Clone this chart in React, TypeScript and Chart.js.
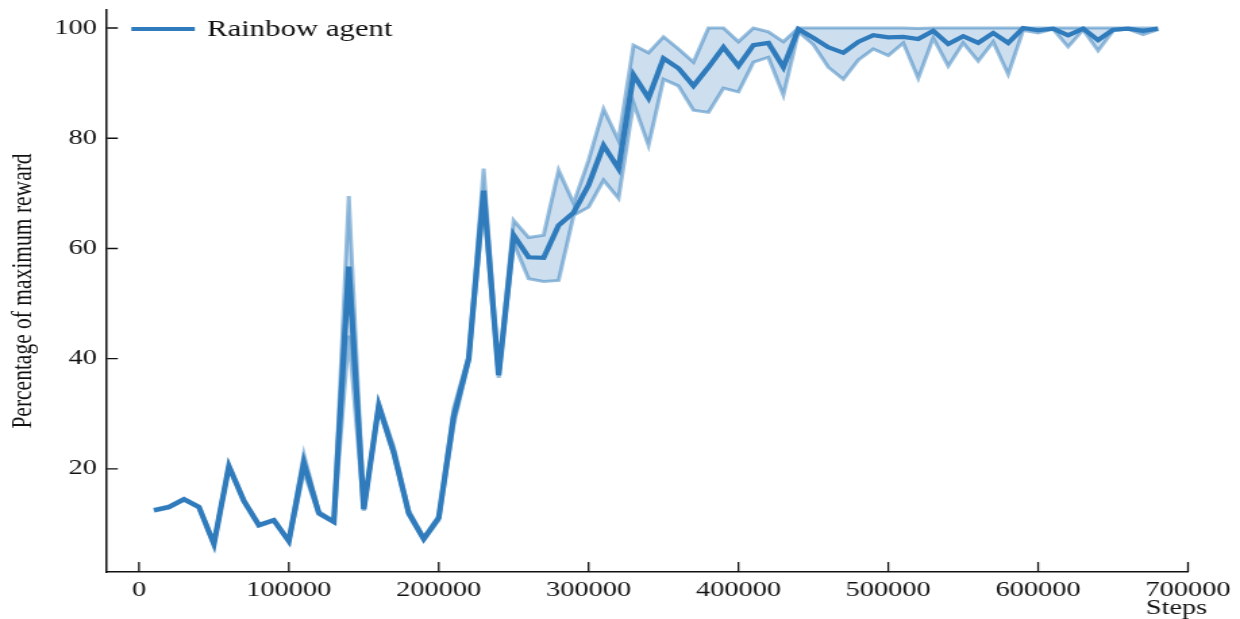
import React, { useEffect, useRef } from "react";
import Chart from "chart.js/auto";

const steps = [
  10000, 20000, 30000, 40000, 50000, 60000, 70000, 80000, 90000, 100000,
  110000, 120000, 130000, 140000, 150000, 160000, 170000, 180000, 190000, 200000,
  210000, 220000, 230000, 240000, 250000, 260000, 270000, 280000, 290000, 300000,
  310000, 320000, 330000, 340000, 350000, 360000, 370000, 380000, 390000, 400000,
  410000, 420000, 430000, 440000, 450000, 460000, 470000, 480000, 490000, 500000,
  510000, 520000, 530000, 540000, 550000, 560000, 570000, 580000, 590000, 600000,
  610000, 620000, 630000, 640000, 650000, 660000, 670000, 680000,
];

const meanReward = [
  12.5, 13.1, 14.5, 13.1, 6.4, 20.5, 14.2, 9.8, 10.7, 6.9,
  21.1, 12.0, 10.4, 56.7, 12.7, 31.5, 23.0, 12.0, 7.3, 11.1,
  29.5, 40.0, 70.5, 37.0, 62.4, 58.4, 58.3, 64.2, 66.5, 71.5,
  78.7, 74.5, 91.5, 87.3, 94.5, 92.7, 89.5, 92.9, 96.5, 93.1,
  96.9, 97.3, 92.9, 99.8, 98.2, 96.5, 95.5, 97.5, 98.7, 98.3,
  98.4, 98.0, 99.5, 97.1, 98.5, 97.3, 99.1, 97.3, 100.0, 99.6,
  99.9, 98.7, 99.9, 97.8, 99.7, 99.9, 99.5, 99.9,
];

const upperReward = [
  12.7, 13.3, 14.7, 13.3, 6.6, 20.7, 14.4, 10.0, 10.9, 7.1,
  22.7, 12.3, 10.6, 69.5, 13.0, 32.0, 24.0, 12.5, 7.6, 11.5,
  31.0, 40.5, 74.5, 37.5, 65.1, 62.0, 62.4, 74.2, 68.2, 76.0,
  85.3, 79.6, 96.9, 95.5, 98.4, 96.2, 93.8, 100.0, 100.0, 97.5,
  100.0, 99.3, 97.5, 100.0, 100.0, 100.0, 100.0, 100.0, 100.0, 100.0,
  100.0, 99.9, 100.0, 100.0, 100.0, 100.0, 100.0, 100.0, 100.0, 100.0,
  100.0, 100.0, 100.0, 100.0, 100.0, 100.0, 100.0, 100.0,
];

const lowerReward = [
  12.3, 12.9, 14.3, 12.9, 6.2, 20.3, 14.0, 9.6, 10.5, 6.7,
  19.5, 11.7, 10.2, 44.2, 12.4, 31.0, 22.5, 11.6, 7.0, 10.7,
  28.0, 39.5, 68.0, 36.5, 61.0, 54.5, 54.0, 54.2, 66.0, 67.5,
  72.4, 69.1, 86.4, 78.7, 90.7, 89.5, 85.1, 84.7, 89.1, 88.4,
  93.8, 94.7, 87.8, 99.3, 97.0, 92.9, 90.7, 94.2, 96.2, 95.0,
  97.3, 90.9, 98.2, 93.1, 97.3, 94.0, 97.5, 91.6, 99.6, 99.1,
  99.8, 96.6, 99.7, 95.9, 99.5, 99.8, 98.8, 99.7,
];

const xTickValues = [0, 100000, 200000, 300000, 400000, 500000, 600000, 700000];
const yTickValues = [20, 40, 60, 80, 100];

const seriesLabel = "Rainbow agent";
const xAxisLabel = "Steps";
const yAxisLabel = "Percentage of maximum reward";

const PAGE_W = 1240;
const PAGE_H = 619;
const W = 918;
const K = PAGE_W / W;
const FONT = "'Liberation Serif', 'Times New Roman', serif";
const TEXT = "#111111";
const MAIN = "#2f7bbb";
const EDGE = "rgba(47,123,187,0.5)";
const FILL = "rgba(47,123,187,0.24)";

const decorPlugin = {
  id: "decor",
  afterDraw(chart: any) {
    const { ctx, chartArea, scales } = chart;
    const x = scales.x;
    const y = scales.y;
    ctx.save();
    ctx.strokeStyle = TEXT;
    ctx.lineWidth = 1.3;
    ctx.beginPath();
    xTickValues.forEach((v) => {
      const px = x.getPixelForValue(v);
      ctx.moveTo(px, chartArea.bottom);
      ctx.lineTo(px, chartArea.bottom - 10);
    });
    yTickValues.forEach((v) => {
      const py = y.getPixelForValue(v);
      ctx.moveTo(chartArea.left, py);
      ctx.lineTo(chartArea.left + 8, py);
    });
    ctx.stroke();

    ctx.fillStyle = TEXT;
    ctx.font = `21px ${FONT}`;
    ctx.textAlign = "center";
    ctx.textBaseline = "alphabetic";
    ctx.fillText(xAxisLabel, x.getPixelForValue(700000) - 8.5, chartArea.bottom + 42);

    const ly = y.getPixelForValue(100) + 1;
    ctx.strokeStyle = MAIN;
    ctx.lineWidth = 4;
    ctx.beginPath();
    ctx.moveTo(chartArea.left + 18, ly);
    ctx.lineTo(chartArea.left + 65, ly);
    ctx.stroke();
    ctx.font = `22.8px ${FONT}`;
    ctx.textAlign = "left";
    ctx.textBaseline = "middle";
    ctx.fillText(seriesLabel, chartArea.left + 74, ly + 1);
    ctx.restore();
  },
};

export default function App() {
  const ref = useRef<HTMLCanvasElement>(null);

  useEffect(() => {
    if (!ref.current) return;
    const pts = (arr: number[]) => steps.map((s, i) => ({ x: s, y: arr[i] }));
    const chart = new Chart(ref.current, {
      type: "line",
      data: {
        datasets: [
          {
            label: seriesLabel,
            data: pts(meanReward),
            borderColor: MAIN,
            backgroundColor: MAIN,
            borderWidth: 4.2,
            pointRadius: 0,
            tension: 0,
            fill: false,
          },
          {
            label: "lower",
            data: pts(lowerReward),
            borderColor: EDGE,
            borderWidth: 3,
            pointRadius: 0,
            tension: 0,
            fill: false,
          },
          {
            label: "upper",
            data: pts(upperReward),
            borderColor: EDGE,
            backgroundColor: FILL,
            borderWidth: 3,
            pointRadius: 0,
            tension: 0,
            fill: 1,
          },
        ],
      },
      options: {
        responsive: false,
        animation: false,
        devicePixelRatio: 1,
        layout: { padding: { top: 10, right: W - 1188 / K, bottom: 0, left: 0 } },
        plugins: {
          legend: { display: false },
          tooltip: { enabled: false },
        },
        scales: {
          x: {
            type: "linear",
            min: -21333,
            max: 700000,
            afterBuildTicks: (s: any) => {
              s.ticks = xTickValues.map((v) => ({ value: v }));
            },
            afterFit: (s: any) => {
              s.height = 47;
              s.paddingLeft = 0;
              s.paddingRight = 0;
            },
            grid: { display: false, drawTicks: false },
            border: { display: true, color: TEXT, width: 1.5 },
            ticks: {
              padding: 6,
              maxRotation: 0,
              autoSkip: false,
              color: TEXT,
              font: { family: FONT, size: 21 },
              callback: (v: any) => String(v),
            },
          },
          y: {
            type: "linear",
            min: 1.3,
            max: 103.27,
            afterBuildTicks: (s: any) => {
              s.ticks = yTickValues.map((v) => ({ value: v }));
            },
            afterFit: (s: any) => {
              s.width = 107 / K;
              s.paddingTop = 0;
              s.paddingBottom = 0;
            },
            grid: { display: false, drawTicks: false },
            border: { display: true, color: TEXT, width: 1.5 },
            ticks: {
              padding: 7.4,
              color: TEXT,
              font: { family: FONT, size: 21 },
              callback: (v: any) => String(v),
            },
            title: {
              display: true,
              text: yAxisLabel,
              color: TEXT,
              font: { family: FONT, size: 21.5 },
              padding: { top: 4, bottom: 0 },
            },
          },
        },
      },
      plugins: [decorPlugin],
    } as any);
    return () => chart.destroy();
  }, []);

  return (
    <div style={{ position: "fixed", left: 0, top: 0, width: PAGE_W, height: PAGE_H, background: "#fff" }}>
      <canvas
        ref={ref}
        width={W}
        height={PAGE_H}
        style={{ width: `${PAGE_W}px`, height: `${PAGE_H}px`, display: "block" }}
      />
    </div>
  );
}
